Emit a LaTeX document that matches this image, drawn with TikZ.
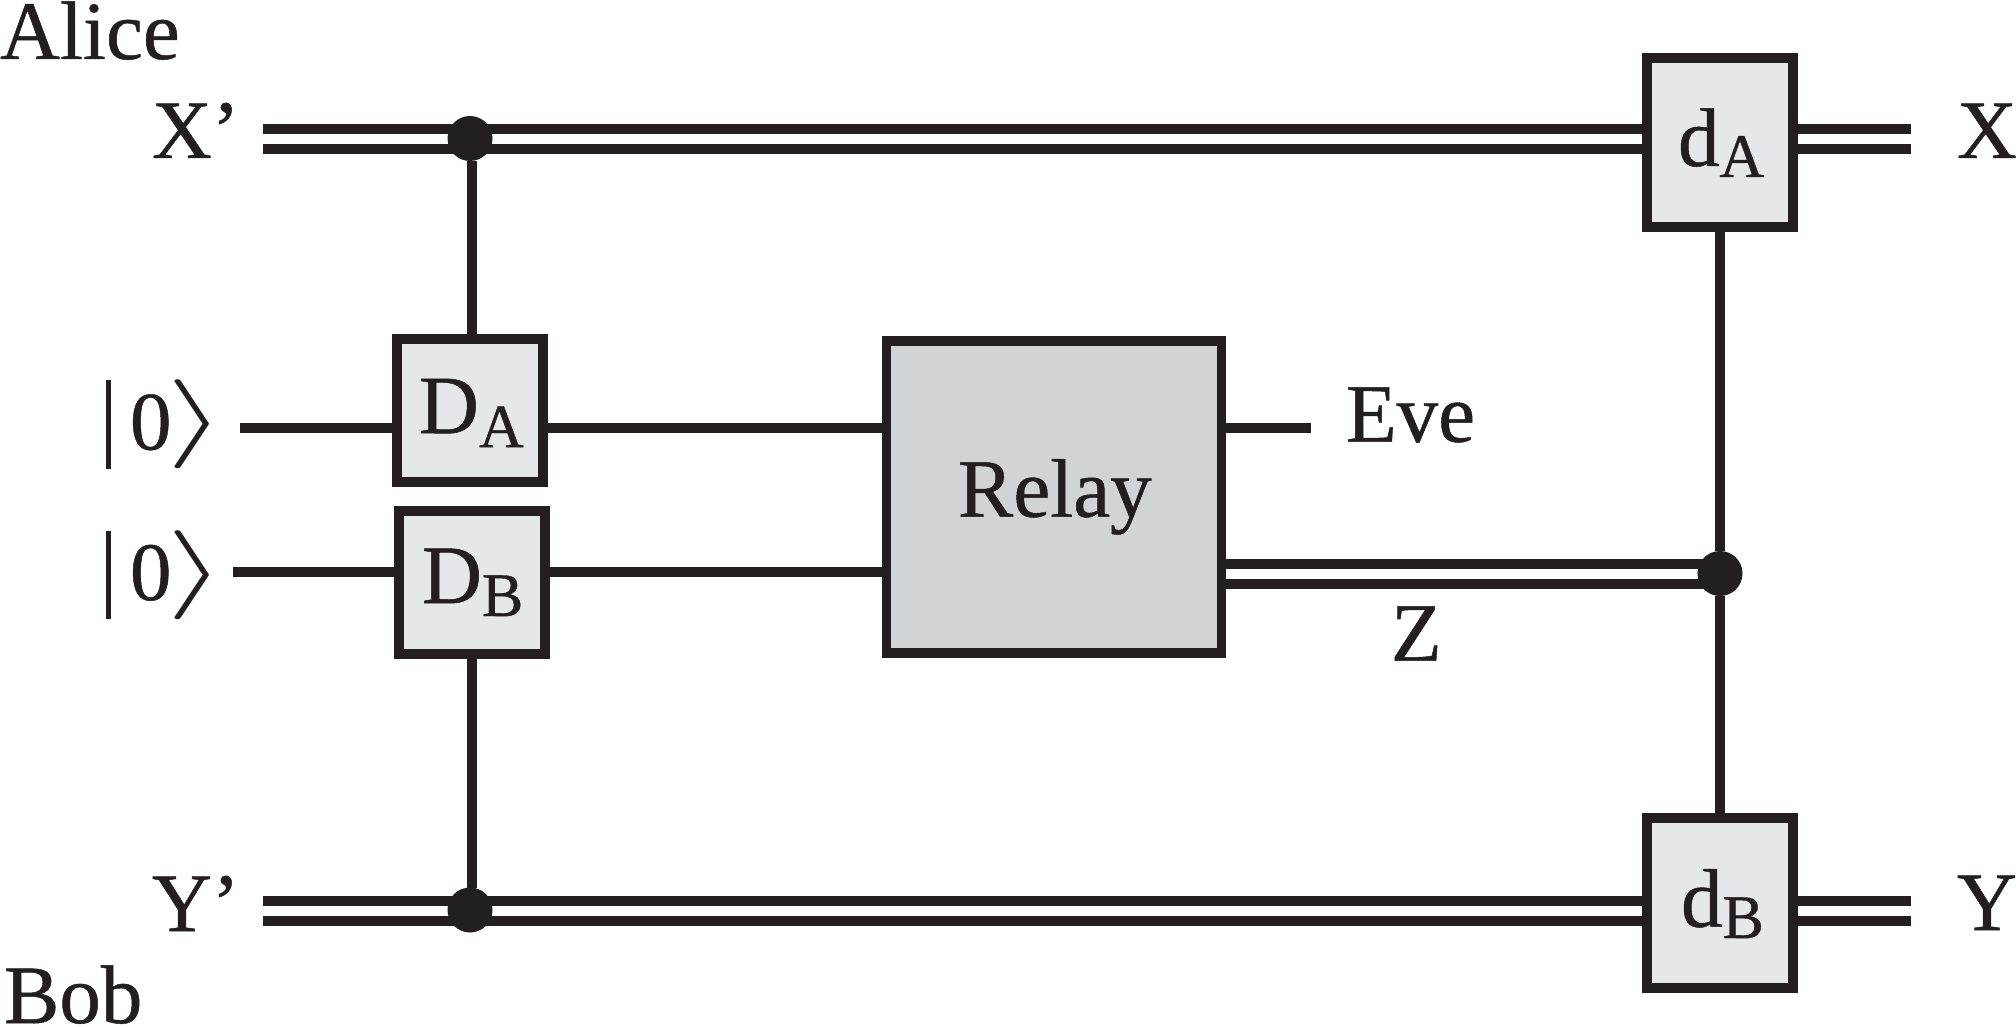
\documentclass[tikz,border=0pt]{standalone}
\usepackage{fontspec}
\setmainfont[FakeBold=0.6]{Liberation Serif}
\definecolor{ink}{HTML}{231F20}
\definecolor{boxfill}{HTML}{E6E7E8}
\definecolor{relayfill}{HTML}{D1D3D4}
\newcommand{\bigtxt}{\fontsize{83}{90}\selectfont}
\newcommand{\subtxt}{\fontsize{62}{70}\selectfont}
\newcommand{\boxlabel}[5]{\makebox[0pt][l]{\hspace{#1pt}\raisebox{-#2pt}[0pt][0pt]{\bigtxt #3\raisebox{-#4pt}{\subtxt #5}}}}
\newcommand{\ket}{\makebox[0pt][l]{\raisebox{-19pt}{\resizebox{4.7pt}{88pt}{\rule{1pt}{10pt}}}}\hspace{24pt}0\hspace{-5pt}\raisebox{2.75pt}{\resizebox*{60pt}{89pt}{$\rangle$}}}
\tikzset{
  wire/.style={draw=ink,line width=10pt},
  gate/.style={draw=ink,line width=10pt,fill=boxfill,rectangle,inner sep=0pt,outer sep=0pt,text=ink},
  relaybox/.style={gate,fill=relayfill,line width=9.5pt},
  junction/.style={circle,fill=ink,draw=none,inner sep=0pt,outer sep=0pt,minimum size=45pt},
  lbl/.style={anchor=base west,inner sep=0pt,outer sep=0pt,text=ink,font=\bigtxt}
}
\begin{document}
\begin{tikzpicture}[x=1pt,y=-1pt]
\useasboundingbox (0,0) rectangle (2016,1027);
% nodes
\node[gate,minimum width=146pt,minimum height=143.5pt] (DA) at (470,410.7) {\boxlabel{-51}{22.5}{D}{14}{A}};
\node[gate,minimum width=146pt,minimum height=143pt] (DB) at (471.5,582) {\boxlabel{-49.5}{21}{D}{13}{B}};
\node[gate,minimum width=146pt,minimum height=169.5pt] (dA) at (1720,142.3) {\boxlabel{-42}{23.7}{d}{11}{A}};
\node[gate,minimum width=146pt,minimum height=169.5pt] (dB) at (1720,903) {\boxlabel{-39}{23.7}{d}{11.3}{B}};
\node[relaybox,minimum width=335pt,minimum height=312pt] (R) at (1054,497) {\boxlabel{-96}{19.7}{Relay}{0}{}};
\node[junction] (j1) at (470,138.5) {};
\node[junction] (j2) at (470,910) {};
\node[junction] (j3) at (1720,573.5) {};
% free ends
\coordinate (xa) at (262.5,128.7); \coordinate (xb) at (262.5,148.7);
\coordinate (xc) at (1911,128.7); \coordinate (xd) at (1911,148.7);
\coordinate (ya) at (262.5,900.7); \coordinate (yb) at (262.5,920.7);
\coordinate (yc) at (1911,900.7); \coordinate (yd) at (1911,920.7);
\coordinate (z1) at (240,428); \coordinate (z2) at (233,572);
\coordinate (ev) at (1311,428);
\coordinate (za) at (1720,564); \coordinate (zb) at (1720,584);
% connectors
\draw[wire] (xa) -- (xa -| dA.west);
\draw[wire] (xb) -- (xb -| dA.west);
\draw[wire] (xc -| dA.east) -- (xc);
\draw[wire] (xd -| dA.east) -- (xd);
\draw[wire] (ya) -- (ya -| dB.west);
\draw[wire] (yb) -- (yb -| dB.west);
\draw[wire] (yc -| dB.east) -- (yc);
\draw[wire] (yd -| dB.east) -- (yd);
\draw[wire] (z1) -- (z1 -| DA.west);
\draw[wire] (z2) -- (z2 -| DB.west);
\draw[wire] (z1 -| DA.east) -- (z1 -| R.west);
\draw[wire] (z2 -| DB.east) -- (z2 -| R.west);
\draw[wire] (ev -| R.east) -- (ev);
\draw[wire] (za -| R.east) -- (za);
\draw[wire] (zb -| R.east) -- (zb);
\draw[wire] ([xshift=1.5pt]j1.south) -- ([xshift=1.5pt]j1.south |- DA.north);
\draw[wire] ([xshift=1.5pt]j2.north) -- ([xshift=1.5pt]j2.north |- DB.south);
\draw[wire] (dA.south) -- (j3);
\draw[wire] (j3) -- (dB.north);
% labels
\node[lbl] (alice) at (0,59) {Alice};
\node[lbl] (bob) at (4,1023) {Bob};
\node[lbl] (xp) at (152,158) {X’};
\node[lbl] (yp) at (152,931) {Y’};
\node[lbl] (x) at (1957,158) {X};
\node[lbl] (y) at (1957,930) {Y};
\node[lbl] (eve) at (1346,441.7) {Eve};
\node[lbl] (zl) at (1391,660.7) {Z};
\node[lbl] (k1) at (106,449.5) {\ket};
\node[lbl] (k2) at (106,600) {\ket};
\end{tikzpicture}
\end{document}
